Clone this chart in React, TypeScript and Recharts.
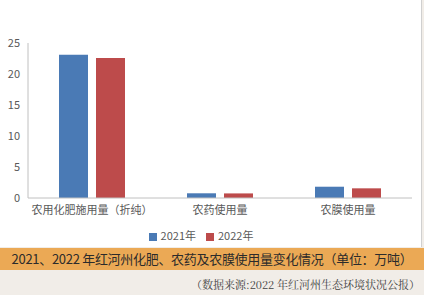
import { BarChart, Bar, XAxis, YAxis, Legend } from "recharts";

const categories = ["农用化肥施用量（折纯）", "农药使用量", "农膜使用量"];
const values2021 = [23.1, 0.76, 1.82];
const values2022 = [22.6, 0.74, 1.56];
const yTicks = [0, 5, 10, 15, 20, 25];

const data = categories.map((name, i) => ({
  name,
  y2021: values2021[i],
  y2022: values2022[i],
}));

const font = '"Noto Sans CJK SC", "Noto Sans", sans-serif';

const App = () => {
  return (
    <div style={{ position: "absolute", left: 0, top: 0, width: 424, height: 295, background: "#f1ede8", fontFamily: font }}>
      <div style={{ position: "absolute", left: 0, top: 0, width: 421, height: 247, background: "#ffffff", borderRight: "1px solid #d0d0d0" }}>
        <BarChart
          width={421}
          height={247}
          data={data}
          margin={{ top: 43, right: 9, left: 0, bottom: 4 }}
          barGap={8}
          barSize={29}
        >
          <XAxis
            dataKey="name"
            tickLine={false}
            axisLine={{ stroke: "#c0c0c0" }}
            tick={{ fill: "#595959", fontSize: 11, fontFamily: font }}
            height={29}
            interval={0}
          />
          <YAxis
            width={28}
            domain={[0, 25]}
            ticks={yTicks}
            tickLine={false}
            axisLine={{ stroke: "#c0c0c0" }}
            tick={{ fill: "#595959", fontSize: 11, fontFamily: font }}
          />
          <Legend
            verticalAlign="bottom"
            iconType="square"
            iconSize={8}
            wrapperStyle={{ fontSize: 11, color: "#595959", fontFamily: font, paddingTop: 0 }}
            formatter={(value) => <span style={{ color: "#595959" }}>{value}</span>}
          />
          <Bar dataKey="y2021" name="2021年" fill="#4a7ab5" isAnimationActive={false} />
          <Bar dataKey="y2022" name="2022年" fill="#bd4b4b" isAnimationActive={false} />
        </BarChart>
      </div>
      <div
        style={{
          position: "absolute",
          left: 0,
          top: 248,
          width: 424,
          height: 22,
          background: "#eba955",
          color: "#2b2b2b",
          fontSize: 13,
          letterSpacing: -0.3,
          lineHeight: "22px",
          textAlign: "center",
          whiteSpace: "nowrap",
        }}
      >
        2021、2022 年红河州化肥、农药及农膜使用量变化情况（单位：万吨）
      </div>
      <div
        style={{
          position: "absolute",
          right: 4,
          top: 276,
          fontSize: 11,
          color: "#404040",
          fontFamily: '"Noto Serif CJK SC", "Noto Sans CJK SC", serif',
          whiteSpace: "nowrap",
        }}
      >
        （数据来源:2022 年红河州生态环境状况公报）
      </div>
    </div>
  );
};

export default App;
